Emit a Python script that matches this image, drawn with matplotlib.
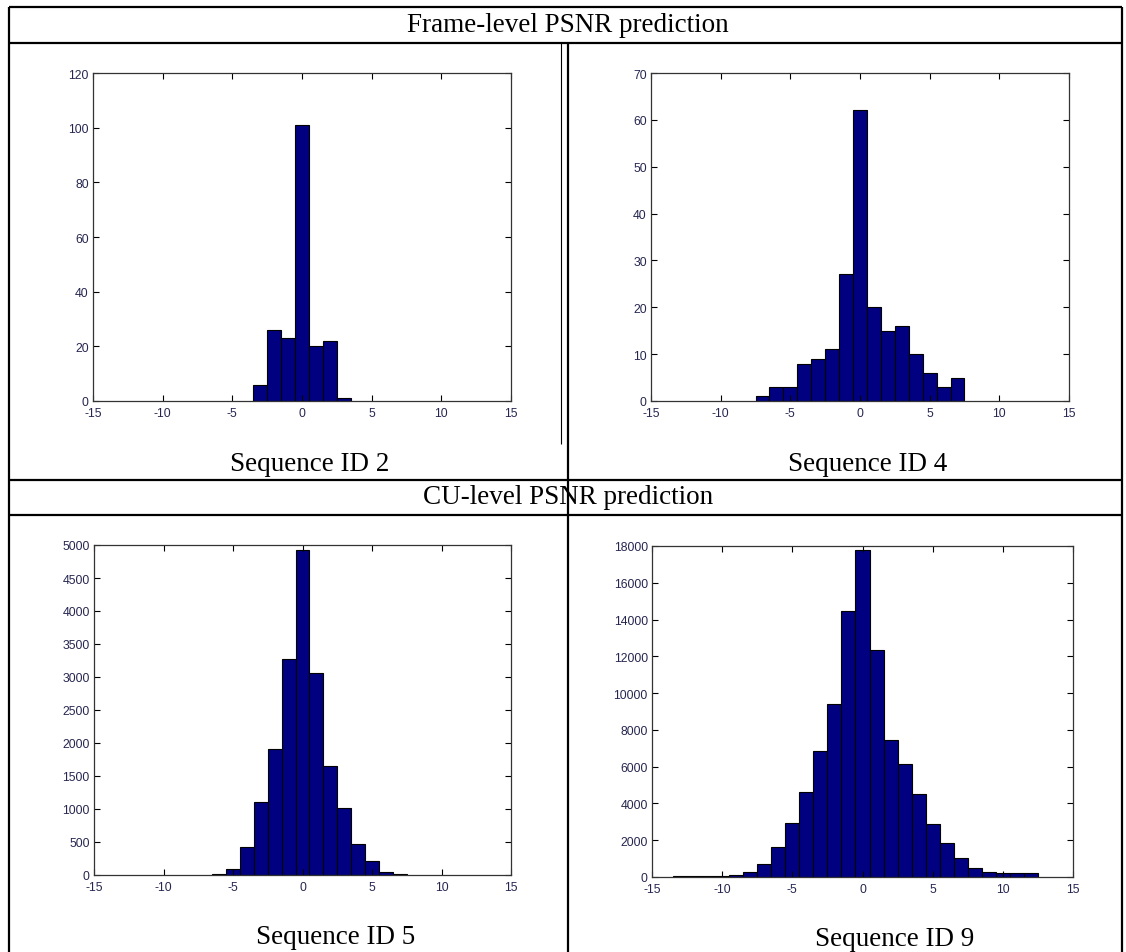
import matplotlib.pyplot as plt
import numpy as np

plt.rcParams['axes.unicode_minus'] = False

# histogram data (bin centres, counts)
seq2_x = [-3, -2, -1, 0, 1, 2, 3]
seq2_n = [6, 26, 23, 101, 20, 22, 1]

seq4_x = list(range(-7, 8))
seq4_n = [1, 3, 3, 8, 9, 11, 27, 62, 20, 15, 16, 10, 6, 3, 5]

seq5_x = list(range(-6, 8))
seq5_n = [15, 90, 430, 1110, 1915, 3270, 4930, 3055, 1650, 1010, 465, 205, 50, 20]

seq9_x = list(range(-13, 13))
seq9_n = [35, 40, 40, 45, 105, 270, 690, 1635, 2960, 4630, 6865, 9390, 14440,
          17800, 12370, 7430, 6160, 4520, 2890, 1835, 1050, 510, 270, 200, 200, 200]

W, H = 1126, 953
fig = plt.figure(figsize=(W / 100, H / 100), dpi=100)

# table frame drawn in pixel coordinates
bg = fig.add_axes([0, 0, 1, 1])
bg.set_xlim(0, W)
bg.set_ylim(H, 0)
bg.axis('off')

def hline(y, x0=9, x1=1122, lw=1.6):
    bg.plot([x0, x1], [y, y], color='black', lw=lw, solid_capstyle='butt')

def vline(x, y0, y1, lw=1.6):
    bg.plot([x, x], [y0, y1], color='black', lw=lw, solid_capstyle='butt')

hline(8)
hline(44)
hline(481)
hline(516)
vline(9, 8, H)
vline(1122, 8, H)
vline(568, 44, H)
vline(561, 44, 445, lw=0.8)

serif = dict(family='Liberation Serif', fontsize=19.5, ha='center', va='center')
bg.text(568, 26, 'Frame-level PSNR prediction', **serif)
bg.text(568, 498, 'CU-level PSNR prediction', **serif)
bg.text(310, 465, 'Sequence ID 2', **serif)
bg.text(868, 465, 'Sequence ID 4', **serif)
bg.text(336, 938, 'Sequence ID 5', **serif)
bg.text(895, 940, 'Sequence ID 9', **serif)


def panel(box, x, n, ymax, ystep):
    l, t, r, b = box
    ax = fig.add_axes([l / W, 1 - b / H, (r - l) / W, (b - t) / H])
    ax.bar(x, n, width=1, color='#000080', edgecolor='black', linewidth=0.8)
    ax.set_xlim(-15, 15)
    ax.set_ylim(0, ymax)
    ax.set_xticks(np.arange(-15, 16, 5))
    ax.set_yticks(np.arange(0, ymax + 1, ystep))
    ax.tick_params(direction='in', top=True, right=True, length=4, width=0.8,
                   labelsize=8.8, labelcolor='#262650')
    ax.tick_params(axis='x', pad=4.5)
    ax.tick_params(axis='y', pad=3)
    for lab in ax.get_xticklabels() + ax.get_yticklabels():
        lab.set_family('Liberation Sans')
    for s in ax.spines.values():
        s.set_color('#333333')
        s.set_linewidth(0.9)
    return ax


panel((93, 74, 511, 402), seq2_x, seq2_n, 120, 20)
panel((651, 74, 1069, 402), seq4_x, seq4_n, 70, 10)
panel((94, 546, 511, 876), seq5_x, seq5_n, 5000, 500)
panel((652, 547, 1073, 878), seq9_x, seq9_n, 18000, 2000)

plt.savefig('out.png', dpi=100)
